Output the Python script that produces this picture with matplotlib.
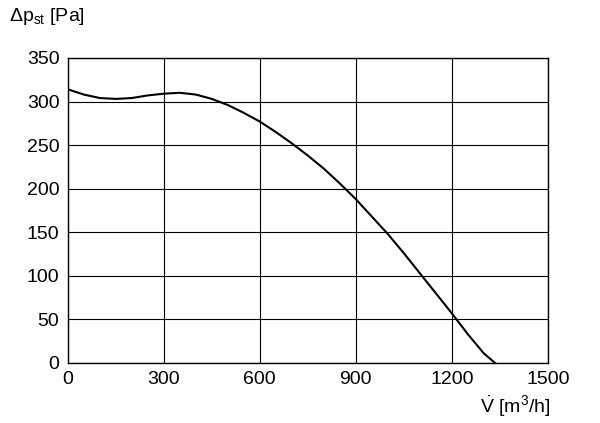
import matplotlib
matplotlib.use('Agg')
import matplotlib.pyplot as plt

plt.rcParams['font.family'] = ['Liberation Sans Narrow', 'Liberation Sans', 'DejaVu Sans']
plt.rcParams['mathtext.fontset'] = 'custom'
plt.rcParams['mathtext.rm'] = 'Liberation Sans'
plt.rcParams['mathtext.it'] = 'Liberation Sans'

# fan curve
flow = [0, 50, 100, 150, 200, 250, 300, 350, 400, 450, 500, 550, 600, 650, 700, 750,
        800, 850, 900, 950, 1000, 1050, 1100, 1150, 1200, 1250, 1300, 1335]
pressure = [314, 308, 304, 303, 304, 307, 309, 310, 308, 303, 296, 287, 277, 265, 252, 238,
            223, 206, 188, 168, 148, 126, 103, 80, 57, 33, 11, 0]

xticks = [0, 300, 600, 900, 1200, 1500]
yticks = [0, 50, 100, 150, 200, 250, 300, 350]

fig = plt.figure(figsize=(6, 4.23), dpi=100)
ax = fig.add_axes([0.113, 0.142, 0.8, 0.721])
ax.plot(flow, pressure, color='black', lw=1.5)
ax.set_xlim(0, 1500)
ax.set_ylim(0, 350)
ax.set_xticks(xticks)
ax.set_yticks(yticks)
ax.grid(True, color='black', lw=0.8)
ax.tick_params(length=0, labelsize=14, pad=6)
for s in ax.spines.values():
    s.set_linewidth(1)

fig.text(0.015, 0.95, r'$\Delta$p$_{\mathrm{st}}$ [Pa]', fontsize=14)
fig.text(0.80, 0.025, r'$\dot{V}$ [m$^{3}$/h]', fontsize=14)

fig.savefig('out.png', dpi=100)
